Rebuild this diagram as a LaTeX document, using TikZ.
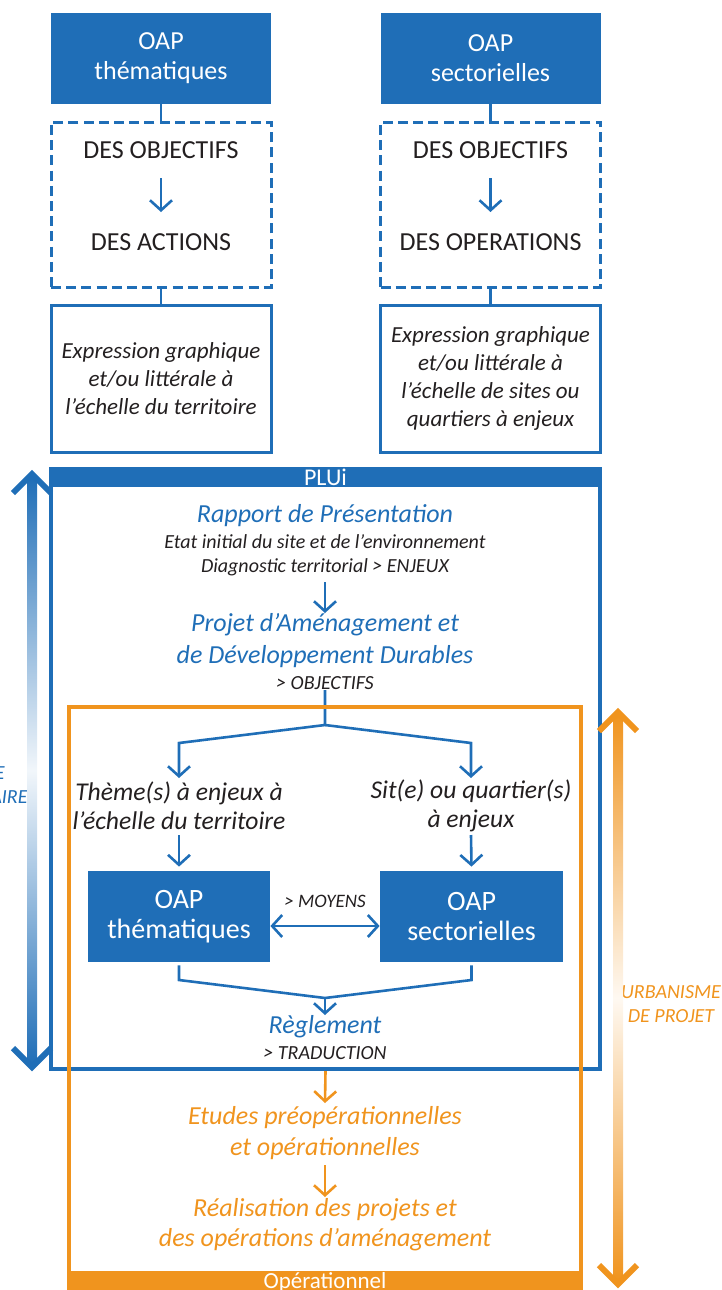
\documentclass[tikz,border=0pt]{standalone}
\usepackage{fontspec}
\setmainfont{Carlito}
\usetikzlibrary{arrows.meta}

\definecolor{oapblue}{RGB}{31,110,183}
\definecolor{oporange}{RGB}{240,148,30}
\definecolor{txtgray}{RGB}{35,31,32}

\tikzset{
  oapbox/.style={fill=oapblue, text=white, align=center, inner sep=0pt},
  dashbox/.style={draw=oapblue, line width=1.5pt, dash pattern=on 5pt off 2.6pt},
  exprbox/.style={draw=oapblue, line width=1.5pt, align=center, inner sep=0pt, text=txtgray,
    font=\fontsize{11.5}{14}\selectfont\itshape},
  capstxt/.style={text=txtgray, inner sep=0pt, font=\fontsize{13}{15}\selectfont},
  bluetxt/.style={text=oapblue, align=center, inner sep=0pt, font=\fontsize{13}{16}\selectfont\itshape},
  graytxt/.style={text=txtgray, align=center, inner sep=0pt, font=\fontsize{10}{12}\selectfont\itshape},
  orangetxt/.style={text=oporange, align=center, inner sep=0pt, font=\fontsize{13}{15.5}\selectfont\itshape},
  link/.style={draw=oapblue, line width=1.3pt},
  flow/.style={link, -{Straight Barb[length=5pt,width=11pt,line width=1.3pt]}},
  dflow/.style={link, {Straight Barb[length=5pt,width=11pt,line width=1.3pt]}-{Straight Barb[length=5pt,width=11pt,line width=1.3pt]}},
  oflow/.style={draw=oporange, line width=1.3pt, -{Straight Barb[length=5pt,width=11pt,line width=1.3pt]}},
  bighead/.style={line width=3pt, miter limit=4},
}

\begin{document}
\begin{tikzpicture}[x=0.5pt,y=-0.5pt]
\useasboundingbox (0,0) rectangle (722,1290);

\draw (161,58.5) node[oapbox, minimum width=110pt, minimum height=45.5pt, font=\fontsize{13}{15}\selectfont] (oapT) {OAP\\thématiques};
\draw (490.5,58.5) node[oapbox, minimum width=110pt, minimum height=45.5pt, font=\fontsize{13}{15}\selectfont] (oapS) {OAP\\sectorielles};

\draw (161,204.5) node[dashbox, minimum width=110pt, minimum height=82.5pt] (objT) {};
\draw (490.5,204.5) node[dashbox, minimum width=110pt, minimum height=82.5pt] (objS) {};
\draw[link] (oapT) to (objT)   (oapS) to (objS) ;

\draw (161,150) node[capstxt] (objT1) {DES OBJECTIFS};
\draw (161,242) node[capstxt] (actT) {DES ACTIONS};
\draw (490.5,150) node[capstxt] (objS1) {DES OBJECTIFS};
\draw (490.5,242) node[capstxt] (opeS) {DES OPERATIONS};
\draw[flow] ([yshift=-14pt]objT1.center) to ([yshift=15pt]actT.center) ;
\draw[flow] ([yshift=-14pt]objS1.center) to ([yshift=15pt]opeS.center) ;

\draw (161,378.5) node[exprbox, minimum width=110pt, minimum height=73.5pt] (exprT) {Expression graphique\\et/ou littérale à\\l’échelle du territoire};
\draw (490.5,378.5) node[exprbox, minimum width=110pt, minimum height=73.5pt] (exprS) {Expression graphique\\et/ou littérale à\\l’échelle de sites ou\\quartiers à enjeux};
\draw[link] (objT) to (exprT)   (objS) to (exprS) ;

\draw (325.5,769) node[draw=oapblue, line width=2pt, minimum width=274.5pt, minimum height=300pt] (plui) {};
\draw (325.5,477) node[oapbox, minimum width=276.5pt, minimum height=10pt, font=\fontsize{12}{12}\selectfont] (pluihead) {PLUi};

\draw (325,516) node[bluetxt] (rapport) {Rapport de Présentation};
\draw (325,555) node[graytxt] (etat) {Etat initial du site et de l’environnement\\Diagnostic territorial > ENJEUX};
\draw (325,641) node[bluetxt] (padd) {Projet d’Aménagement et\\de Développement Durables};
\draw (325,683) node[graytxt] (objectifs) {> OBJECTIFS};
\draw[flow] ([yshift=-13.5pt]etat.center) to ([yshift=14pt]padd.center) ;

\draw (179,805.5) node[graytxt, font=\fontsize{12.8}{14.5}\selectfont\itshape] (theme) {Thème(s) à enjeux à\\l’échelle du territoire};
\draw (471,805.5) node[graytxt, font=\fontsize{12.8}{14.5}\selectfont\itshape] (site) {Sit(e) ou quartier(s)\\à enjeux};
\coordinate (split) at (325,725);
\coordinate (splitL) at (179,743);
\coordinate (splitR) at (471,743);
\draw[flow] ([yshift=-3.5pt]objectifs.center) -- (split) -- (splitL) -- ([yshift=13.75pt]theme.center) ;
\draw[flow] (split) -- (splitR) -- ([yshift=13.75pt]site.center) ;

\draw (179,916.5) node[oapbox, minimum width=91pt, minimum height=45.5pt, font=\fontsize{14}{15}\selectfont] (oapT2) {OAP\\thématiques};
\draw (471.5,916.5) node[oapbox, minimum width=91.5pt, minimum height=45.5pt, font=\fontsize{14}{15}\selectfont] (oapS2) {OAP\\sectorielles};
\draw[flow] ([yshift=-14.75pt]theme.center) to ([yshift=2pt]oapT2.north) ;
\draw[flow] ([yshift=-14.75pt]site.center) to ([yshift=2pt]oapS2.north) ;
\draw (325,901) node[graytxt, font=\fontsize{9.5}{11}\selectfont\itshape] (moyens) {> MOYENS};
\draw[dflow] ([yshift=-4.75pt]oapT2.east) to ([yshift=-4.75pt]oapS2.west) ;

\draw (325,1027) node[bluetxt] (reglement) {Règlement};
\draw (325,1053) node[graytxt] (traduction) {> TRADUCTION};
\coordinate (mergeL) at (179,980);
\coordinate (mergeR) at (471.5,980);
\coordinate (merge) at (325,998);
\draw[link] ([yshift=-1.5pt]oapT2.south) -- (mergeL) -- (merge) ;
\draw[link] ([yshift=-1.5pt]oapS2.south) -- (mergeR) -- (merge) ;
\draw[flow] (merge) to ([yshift=6pt]reglement.center) ;

\draw (325,998.5) node[draw=oporange, line width=2pt, minimum width=256pt, minimum height=291.5pt] (opbox) {};
\draw (325,1282) node[fill=oporange, text=white, inner sep=0pt, minimum width=258pt, minimum height=11pt, font=\fontsize{11.5}{12}\selectfont] (ophead) {Opérationnel};

\draw (325,1133.5) node[orangetxt] (etudes) {Etudes préopérationnelles\\et opérationnelles};
\draw (325,1225) node[orangetxt, font=\fontsize{13}{15}\selectfont\itshape] (realisation) {Réalisation des projets et\\des opérations d’aménagement};
\draw[oflow] (plui.south) to ([yshift=15.25pt]etudes.center) ;
\draw[oflow] ([yshift=-15.75pt]etudes.center) to ([yshift=14pt]realisation.center) ;

\draw (671,1004) node[orangetxt, font=\fontsize{10}{12}\selectfont\itshape] (urba) {URBANISME\\DE PROJET};
\draw (5,773) node[bluetxt, anchor=east, font=\fontsize{10}{12}\selectfont\itshape] (sideA) {E};
\draw (28,797) node[bluetxt, anchor=east, font=\fontsize{10}{12}\selectfont\itshape] (sideB) {AIRE};

\shade[top color=oapblue, bottom color=oapblue, middle color=oapblue!6] (27,476) rectangle (37,1065);
\draw[bighead, oapblue] (13,493) -- (32,474) -- (51,493);
\draw[bighead, oapblue] (13,1048) -- (32,1067) -- (51,1048);

\shade[top color=oporange, bottom color=oporange, middle color=oporange!6] (613,714) rectangle (623,1282);
\draw[bighead, oporange] (599,731) -- (618,712) -- (637,731);
\draw[bighead, oporange] (599,1265) -- (618,1284) -- (637,1265);

\end{tikzpicture}
\end{document}
